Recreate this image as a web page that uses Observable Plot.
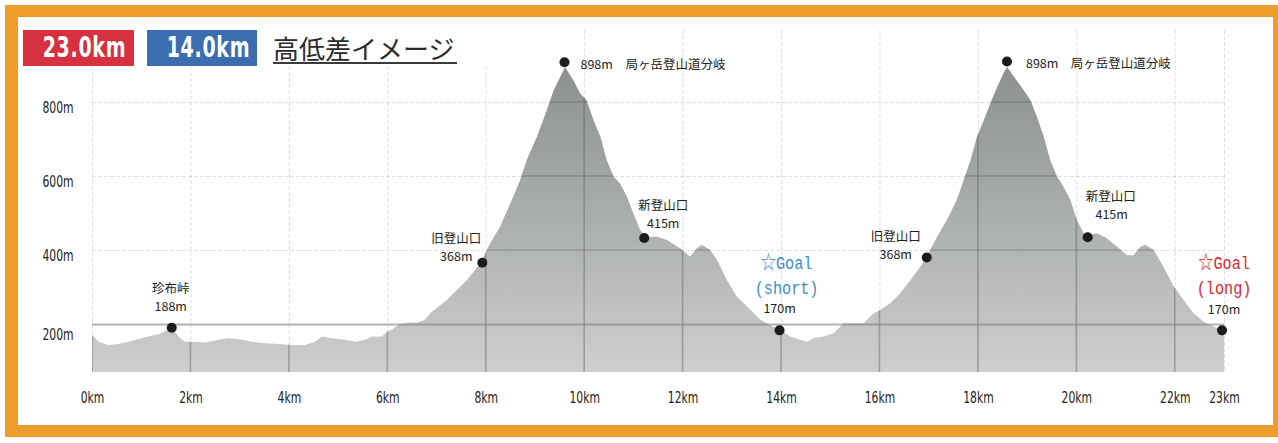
<!DOCTYPE html>
<html>
<head>
<meta charset="utf-8">
<script src="https://cdn.jsdelivr.net/npm/d3@7"></script>
<script src="https://cdn.jsdelivr.net/npm/@observablehq/plot@0.6"></script>
<style>
  html, body { margin: 0; padding: 0; background: #fff; overflow: hidden; }
  #wrap { position: relative; width: 1278px; height: 443px; overflow: hidden; background: #fff; }
  #frame { position: absolute; left: 5px; top: 5px; width: 1280px; height: 432px; box-sizing: border-box;
           border-style: solid; border-color: #ec9d2c; border-width: 12px 12px 12px 13px; background: #fff; }
  #chart { position: absolute; left: 0; top: 0; }
  #header { position: absolute; left: 18px; top: 17px; width: 484px; height: 50px; background: #fff; }
  .badge { position: absolute; top: 13px; height: 36px; line-height: 36px; text-align: center; color: #fff;
           font-family: "DejaVu Sans", sans-serif; font-size: 28px; font-weight: bold; }
  .badge span { display: inline-block; transform: scaleX(0.68); transform-origin: center; letter-spacing: 1px; }
  #title { position: absolute; left: 255px; top: 17.5px; font-family: "Noto Sans CJK JP", sans-serif;
           font-size: 26px; line-height: 26px; color: #2b2b2b; white-space: nowrap; }
  #uline { position: absolute; left: 255px; top: 45px; width: 184px; height: 2px; background: #3a3a3a; }
</style>
</head>
<body>
<div id="wrap">
  <div id="frame"></div>
  <div id="chart"></div>
  <div id="header">
    <div class="badge" id="b1" style="left:5px;width:111px;background:#d7303e;"><span></span></div>
    <div class="badge" id="b2" style="left:129px;width:110px;background:#3b6db1;"><span></span></div>
    <div id="title"></div>
    <div id="uline"></div>
  </div>
</div>
<script>
// ---- data ----
const courseLengths = ["23.0km", "14.0km"];
const chartTitle = "高低差イメージ";

const profileKm = [0.00,0.13,0.33,0.54,0.74,0.94,1.14,1.35,1.55,1.67,1.79,1.89,2.09,2.30,2.57,2.77,2.97,3.25,3.52,3.79,
  4.06,4.33,4.53,4.67,4.87,5.14,5.35,5.55,5.69,5.89,5.99,6.09,6.26,6.43,6.60,6.75,6.87,7.21,7.62,7.89,
  8.09,8.29,8.50,8.70,8.83,9.04,9.24,9.38,9.55,9.61,9.78,9.92,10.05,10.19,10.33,10.46,10.60,10.73,10.87,11.00,
  11.14,11.24,11.48,11.68,11.95,12.15,12.29,12.39,12.56,12.70,12.90,13.10,13.31,13.58,13.78,13.98,14.19,14.39,14.53,14.66,
  14.86,15.07,15.27,15.68,15.88,16.02,16.22,16.42,16.63,16.83,16.96,17.17,17.37,17.57,17.71,17.85,17.98,18.12,18.25,18.39,
  18.52,18.59,18.73,18.93,19.07,19.20,19.34,19.47,19.61,19.74,19.88,20.01,20.15,20.28,20.42,20.62,20.83,21.03,21.16,21.30,
  21.40,21.57,21.77,21.98,22.18,22.38,22.59,22.79,23.00];
const profileElev = [170,152,143,146,152,159,166,172,184,181,161,152,152,150,157,161,159,152,148,146,
  143,143,152,166,161,157,152,157,166,166,179,184,200,204,203,210,229,265,319,364,
  418,463,526,589,643,706,778,832,878,895,859,823,805,751,706,643,598,580,544,499,
  454,436,436,427,405,382,405,414,400,373,319,274,247,211,197,184,166,157,152,161,
  166,175,202,202,229,238,256,283,319,355,382,436,481,535,589,643,706,751,796,841,
  878,895,869,832,805,760,706,643,598,571,535,481,445,441,445,432,409,386,386,409,
  414,400,355,301,265,229,206,193,182];

const markerKm    = [1.61, 7.92, 9.59, 11.21, 13.96, 16.95, 18.58, 20.22, 22.95];
const markerElev  = [191, 367, 909, 434, 184, 381, 911, 436, 184];
const markerName  = ["珍布峠", "旧登山口", "局ヶ岳登山道分岐", "新登山口", "☆Goal\n(short)",
                     "旧登山口", "局ヶ岳登山道分岐", "新登山口", "☆Goal\n(long)"];
const markerHeight = ["188m", "368m", "898m", "415m", "170m", "368m", "898m", "415m", "170m"];

const xTicks = [0, 2, 4, 6, 8, 10, 12, 14, 16, 18, 20, 22, 23];
const xTickLabels = ["0km","2km","4km","6km","8km","10km","12km","14km","16km","18km","20km","22km","23km"];
const yTicks = [200, 400, 600, 800];
const yTickLabels = ["200m", "400m", "600m", "800m"];

// ---- header ----
document.querySelector("#b1 span").textContent = courseLengths[0];
document.querySelector("#b2 span").textContent = courseLengths[1];
document.getElementById("title").textContent = chartTitle;

// ---- chart ----
const yBase = 70;
const profile = profileKm.map((km, i) => ({km, elev: profileElev[i]}));
const markers = markerKm.map((km, i) => ({km, elev: markerElev[i], i}));
const xLab = new Map(xTicks.map((t, i) => [t, xTickLabels[i]]));
const yLab = new Map(yTicks.map((t, i) => [t, yTickLabels[i]]));

const jp = {fontFamily: "Noto Sans CJK JP, sans-serif", fontSize: 12.5, fill: "#222"};
function lbl(i, text, dx, dy, opts = {}) {
  return Plot.text([markers[i]], {x: "km", y: "elev", text: () => text, dx, dy, ...jp, ...opts});
}
const goalStyle = {fontFamily: "Liberation Mono, Noto Sans CJK JP, monospace", fontSize: 19};
const nm = i => markerName[i].split("\n");

const labelMarks = [
  lbl(0, markerName[0], -1, -39), lbl(0, markerHeight[0], -1, -21),
  lbl(1, markerName[1], -26, -24), lbl(1, markerHeight[1], -26, -6),
  lbl(2, markerHeight[2] + "\u3000" + markerName[2], 16, 3, {textAnchor: "start"}),
  lbl(3, markerName[3], 19, -32), lbl(3, markerHeight[3], 19, -14),
  lbl(4, nm(4)[0], 7, -67, {...goalStyle, fill: "#3d8ccf"}),
  lbl(4, nm(4)[1], 7, -42, {...goalStyle, fill: "#3d8ccf"}),
  lbl(4, markerHeight[4], 0, -21),
  lbl(5, markerName[5], -31, -21), lbl(5, markerHeight[5], -31, -3),
  lbl(6, markerHeight[6] + "\u3000" + markerName[6], 19, 2, {textAnchor: "start"}),
  lbl(7, markerName[7], 23, -40), lbl(7, markerHeight[7], 24, -22),
  lbl(8, nm(8)[0], 2, -67, {...goalStyle, fill: "#e0262f"}),
  lbl(8, nm(8)[1], 2, -42, {...goalStyle, fill: "#e0262f"}),
  lbl(8, markerHeight[8], 2, -20)
];

const axisFont = {fontFamily: "DejaVu Sans, sans-serif", fontSize: 15, fill: "#222"};

const svg = Plot.plot({
  width: 1278,
  height: 443,
  marginLeft: 92,
  marginRight: 54,
  marginTop: 30,
  marginBottom: 71,
  style: {background: "transparent", overflow: "visible"},
  x: {domain: [0, 23], label: null},
  y: {domain: [yBase, 995], label: null},
  marks: [
    // rule 0/1: light grid (outside of terrain)
    Plot.ruleX(xTicks, {stroke: "#b9b9b9", strokeOpacity: 0.45, strokeDasharray: "4,2"}),
    Plot.ruleY([400, 600, 800], {stroke: "#b9b9b9", strokeOpacity: 0.45, strokeDasharray: "4,2"}),
    // terrain
    Plot.areaY(profile, {x: "km", y1: () => yBase, y2: "elev", fill: "#a6aaa8"}),
    // rule 2/3: grid inside terrain (clipped below)
    Plot.ruleX(xTicks.filter(d => d < 23), {stroke: "#5f6462", strokeOpacity: 0.45, strokeWidth: 1.6}),
    Plot.ruleY([400, 600, 800], {stroke: "#5f6462", strokeOpacity: 0.4, strokeWidth: 1.6}),
    // rule 4: 200 m line
    Plot.ruleY([200], {stroke: "#7e8281", strokeOpacity: 0.6, strokeWidth: 2}),
    // axes
    Plot.axisX(xTicks, {tickSize: 0, tickPadding: 20, tickFormat: d => xLab.get(d), ...axisFont, label: null}),
    Plot.axisY([400, 600, 800], {tickSize: 0, tickPadding: 19, dy: 6, tickFormat: d => yLab.get(d), ...axisFont, label: null}),
    Plot.axisY([200], {tickSize: 0, tickPadding: 19, dy: 11, tickFormat: d => yLab.get(d), ...axisFont, label: null}),
    // markers
    Plot.dot(markers, {x: "km", y: "elev", r: 5, fill: "#1c1c1c", stroke: "none"}),
    ...labelMarks
  ]
});

// gradient + clip
const NS = "http://www.w3.org/2000/svg";
const defs = document.createElementNS(NS, "defs");
const grad = document.createElementNS(NS, "linearGradient");
grad.setAttribute("id", "elevGrad");
grad.setAttribute("gradientUnits", "userSpaceOnUse");
grad.setAttribute("x1", "0"); grad.setAttribute("x2", "0");
grad.setAttribute("y1", "60"); grad.setAttribute("y2", "372");
[["0", "#8b908e"], ["0.45", "#a6aaa8"], ["0.8", "#bfc2c1"], ["1", "#cdcfce"]].forEach(([o, c]) => {
  const s = document.createElementNS(NS, "stop");
  s.setAttribute("offset", o); s.setAttribute("stop-color", c);
  grad.appendChild(s);
});
defs.appendChild(grad);
const terrainG = svg.querySelector('g[aria-label="area"]');
const areaPath = terrainG ? terrainG.querySelector("path") : null;
if (areaPath) {
  terrainG.setAttribute("fill", "url(#elevGrad)");
  areaPath.setAttribute("fill", "url(#elevGrad)");
  const cp = document.createElementNS(NS, "clipPath");
  cp.setAttribute("id", "terrainClip");
  const p = document.createElementNS(NS, "path");
  p.setAttribute("d", areaPath.getAttribute("d"));
  cp.appendChild(p);
  defs.appendChild(cp);
  const rules = [...svg.querySelectorAll(':scope > g[aria-label="rule"]')];
  [rules[2], rules[3]].forEach(g => {
    if (!g) return;
    g.removeAttribute("transform");
    g.setAttribute("clip-path", "url(#terrainClip)");
  });
}
svg.insertBefore(defs, svg.firstChild);

// condensed look for axis labels and goal labels
function condense(sel, k) {
  svg.querySelectorAll(sel).forEach(t => {
    let tr = t.getAttribute("transform");
    if (!tr) {
      const x = t.getAttribute("x") || 0, y = t.getAttribute("y") || 0;
      t.removeAttribute("x"); t.removeAttribute("y");
      tr = `translate(${x},${y})`;
    }
    t.setAttribute("transform", tr + ` scale(${k},1)`);
  });
}
condense('g[aria-label="x-axis tick label"] text, g[aria-label="y-axis tick label"] text', 0.72);
condense('g[aria-label="text"][font-family^="Liberation Mono"] text', 0.8);

document.getElementById("chart").appendChild(svg);
</script>
</body>
</html>
